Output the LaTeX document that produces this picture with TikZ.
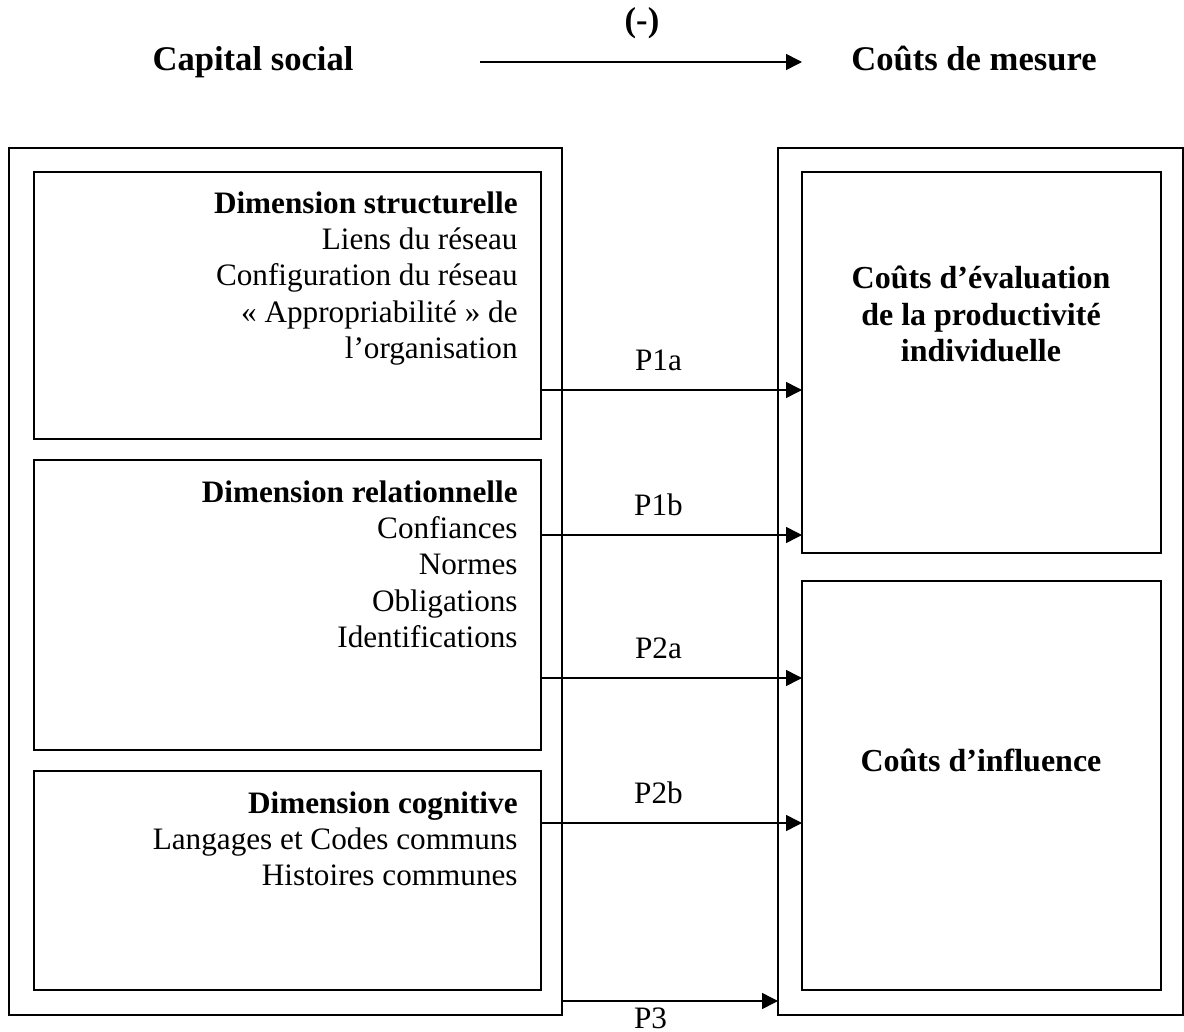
\documentclass[tikz,border=0pt]{standalone}
\usepackage{fontspec}
\setmainfont{Liberation Serif}
\usepackage{tikz}
\usetikzlibrary{positioning,arrows.meta}

\begin{document}
\begin{tikzpicture}[x=0.5pt, y=-0.5pt,
			txt/.style={font=\fontsize{15.6}{18.2}\selectfont, inner sep=0pt},
			head/.style={font=\fontsize{17.3}{20}\selectfont\bfseries, inner sep=0pt, anchor=base},
			outerbox/.style={draw, line width=1pt, rectangle, inner sep=0pt, outer sep=0pt, anchor=north west},
			box/.style={draw, line width=1pt, rectangle, inner sep=0pt, outer sep=0pt, anchor=north west},
			dimtext/.style={txt, align=right, anchor=north east},
			costtext/.style={font=\fontsize{16}{18.2}\selectfont\bfseries, inner sep=0pt, align=center},
			arrow/.style={-{Triangle[length=8pt, width=8pt]}, line width=0.75pt}]
			
			\useasboundingbox (0,0) rectangle (1184,1032);
			
			\node[head] (capital) at (253,71) {Capital social};
			\node[head] (mesure) at (974,71) {Coûts de mesure};
			\node[head] (signe) at (642,32) {(-)};
			\coordinate (topl) at (480,62);
			\coordinate (topr) at (802,62);
			
			\node[outerbox, minimum width=276.5pt, minimum height=433.5pt] (capbox) at (9,148) {};
			\node[outerbox, minimum width=202.5pt, minimum height=433.5pt] (mesbox) at (778,148) {};
			
			\node[box, minimum width=253.5pt, minimum height=133.5pt] (struct) at (34,172) {};
			\node[box, minimum width=253.5pt, minimum height=145pt] (relat) at (34,460) {};
			\node[box, minimum width=253.5pt, minimum height=109.5pt] (cogn) at (34,771) {};
			\node[box, minimum width=179.5pt, minimum height=190.5pt] (evalbox) at (802,172) {};
			\node[box, minimum width=179.5pt, minimum height=204.5pt] (inflbox) at (802,581) {};
			
			\node[dimtext] (structtxt) at (518,191) {\textbf{Dimension structurelle}\\Liens du réseau\\Configuration du réseau\\« Appropriabilité » de\\l’organisation};
			\node[dimtext] (relattxt) at (518,480) {\textbf{Dimension relationnelle}\\Confiances\\Normes\\Obligations\\Identifications};
			\node[dimtext] (cogntxt) at (518,791) {\textbf{Dimension cognitive}\\Langages et Codes communs\\Histoires communes};
			\node[costtext] (evaltxt) at (981,314) {Coûts d’évaluation\\de la productivité\\individuelle};
			\node[costtext] (infltxt) at (981,760) {Coûts d’influence};
			
			\draw[arrow] (topl) -- (topr);
			\draw[arrow] (struct.east |- 0,390) -- node[txt, above=9pt, pos=0.45] (pia) {P1a} (evalbox.west |- 0,390);
			\draw[arrow] (relat.east |- 0,535) -- node[txt, above=9pt, pos=0.45] (pib) {P1b} (evalbox.west |- 0,535);
			\draw[arrow] (relat.east |- 0,678) -- node[txt, above=9pt, pos=0.45] (piia) {P2a} (inflbox.west |- 0,678);
			\draw[arrow] (cogn.east |- 0,823) -- node[txt, above=9pt, pos=0.45] (piib) {P2b} (inflbox.west |- 0,823);
			\draw[arrow] (capbox.east |- 0,1001) -- node[txt, below=3pt, pos=0.41] (piii) {P3} (mesbox.west |- 0,1001);
			
		\end{tikzpicture}
\end{document}
